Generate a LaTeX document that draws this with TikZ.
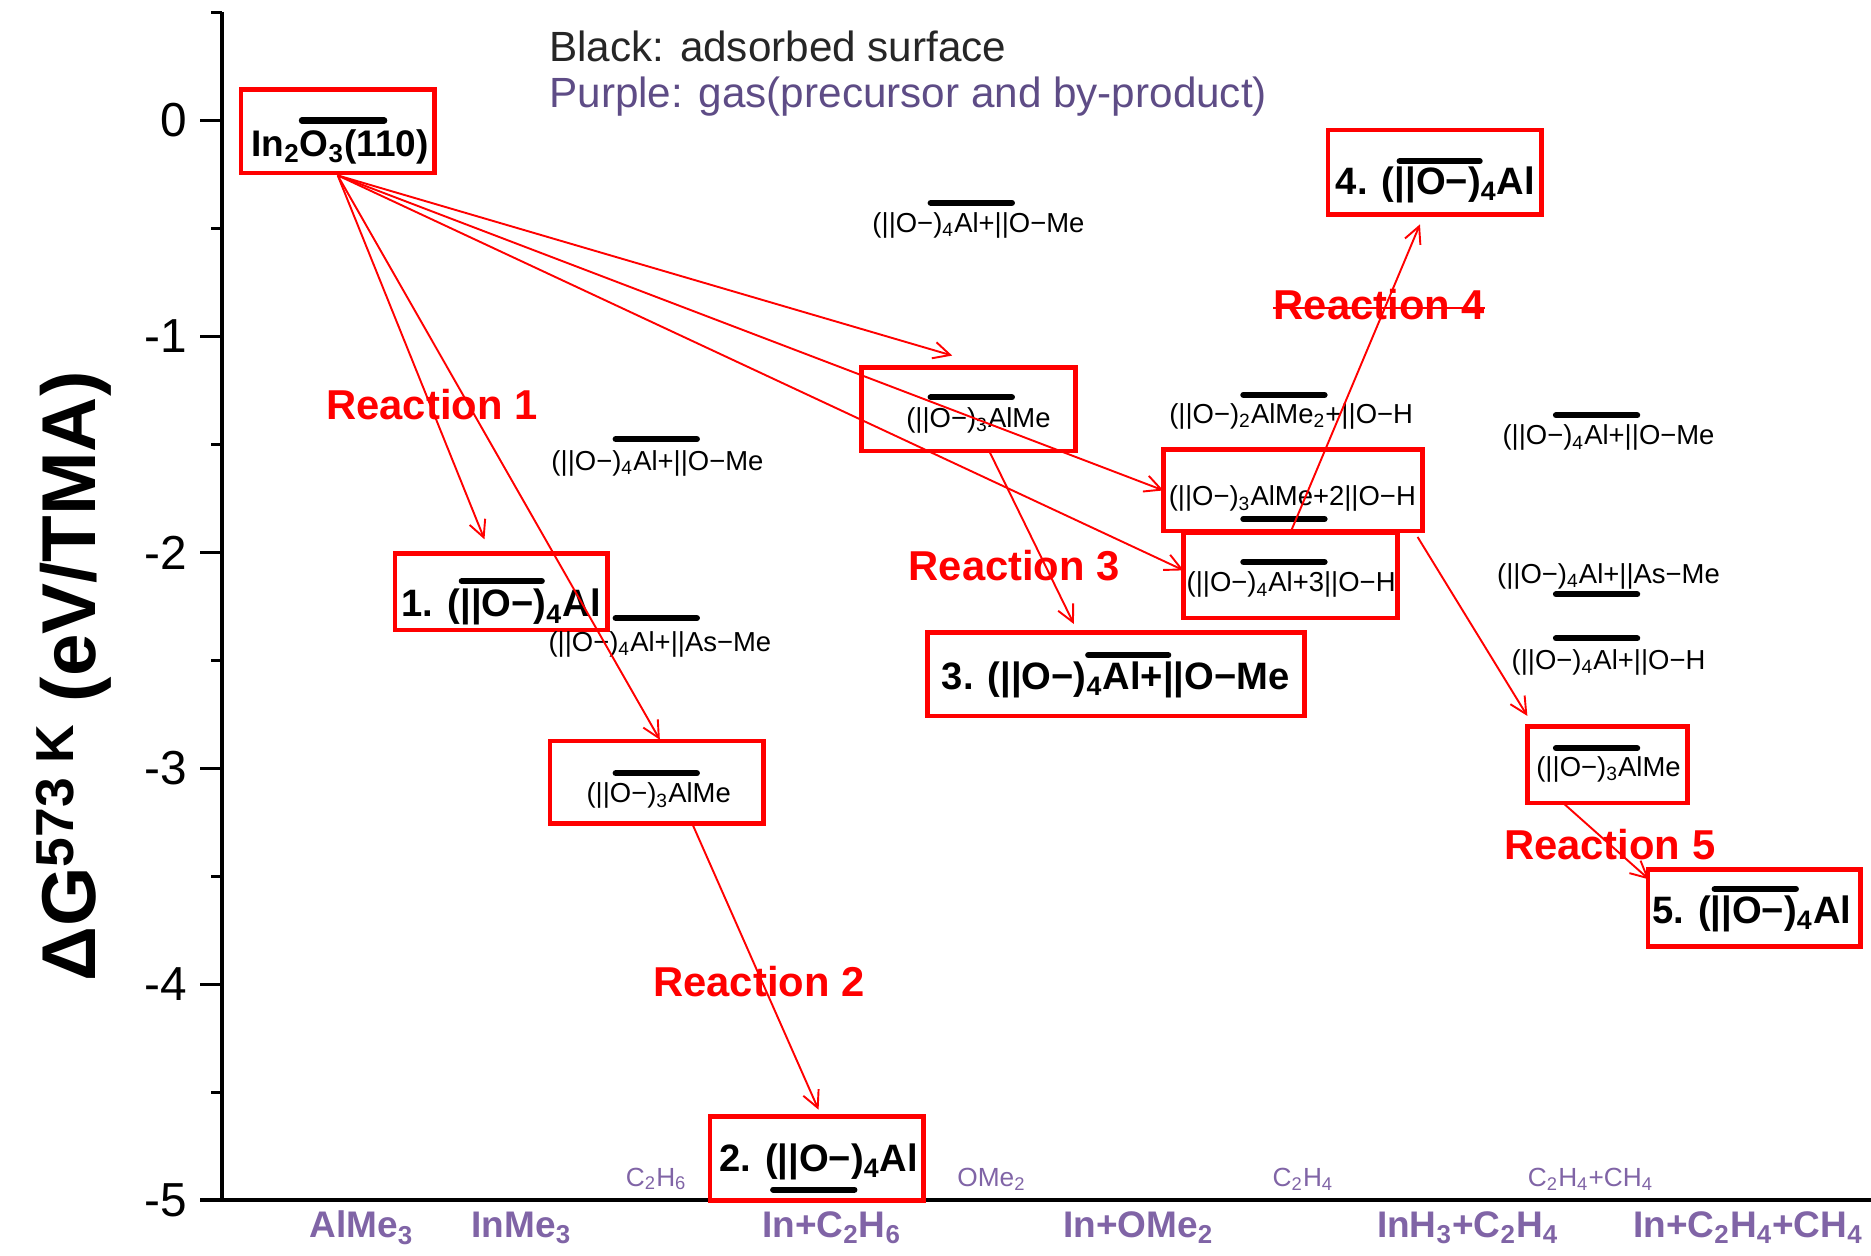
\documentclass[tikz,border=0pt]{standalone}
\usepackage{fontspec}
\setmainfont{Liberation Sans}
\usetikzlibrary{arrows.meta}
\definecolor{rred}{RGB}{255,0,0}
\definecolor{xpurple}{RGB}{128,100,166}
\definecolor{lpurple}{RGB}{94,76,134}
\definecolor{lblack}{RGB}{38,38,38}
\newcommand{\sbs}[1]{\textsubscript{#1}}
\newcommand{\grp}{(||O−)}
\begin{document}
\begin{tikzpicture}[x=0.5pt,y=-0.5pt,
  rbox/.style={draw=rred,line width=2pt,inner sep=0pt},
  lvl/.style={line width=2.6pt,line cap=round},
  sp/.style={inner sep=0pt,yshift=-1pt,font=\fontsize{11.5}{13}\selectfont},
  spb/.style={inner sep=0pt,yshift=-1pt,font=\bfseries\fontsize{16}{18}\selectfont},
  rxn/.style={inner sep=0pt,text=rred,font=\bfseries\fontsize{17.5}{20}\selectfont},
  arr/.style={draw=rred,line width=0.8pt,-{Straight Barb[length=7pt,width=7pt,line width=0.8pt]}},
  gas/.style={inner sep=0pt,text=xpurple,font=\fontsize{11}{13}\selectfont},
  xl/.style={inner sep=0pt,text=xpurple,font=\bfseries\fontsize{15.5}{18}\selectfont},
  tickl/.style={inner sep=0pt,anchor=east,font=\fontsize{20}{22}\selectfont},
  axis/.style={line width=1.6pt}
]
\useasboundingbox (0,0) rectangle (1568,1052);
% axes
\draw[axis] (186,10) -- (186,1006);
\draw[axis] (168,1006) -- (1568,1006);
\foreach \v/\lab in {0/0,-1/-1,-2/-2,-3/-3,-4/-4,-5/-5}{
  \draw[axis] (168,{101-181*\v}) -- (186,{101-181*\v});
  \node[tickl] (tk\lab) at (157,{101-181*\v}) {\lab};
}
\foreach \v in {0.5,-0.5,-1.5,-2.5,-3.5,-4.5}{
  \draw[axis] (177,{101-181*\v}) -- (186,{101-181*\v});
}
\node[inner sep=0pt,rotate=90,font=\bfseries\fontsize{32}{36}\selectfont] (ylab) at (62,567) {ΔG\textsuperscript{573 K} (eV/TMA)};
% legend
\node[inner sep=0pt,anchor=west,text=lblack,font=\fontsize{17.7}{20}\selectfont] (leg1) at (460,39) {Black: adsorbed surface};
\node[inner sep=0pt,anchor=west,text=lpurple,font=\fontsize{17.7}{20}\selectfont] (leg2) at (460,81) {Purple: gas(precursor and by-product)};
% boxes (sizes in pt = half of pixel units)
\node[rbox,minimum width=81pt,minimum height=35pt] (b0) at (283,110) {};
\node[rbox,minimum width=89.5pt,minimum height=35pt] (bA) at (811.5,343) {};
\node[rbox,minimum width=108.5pt,minimum height=34pt] (bB) at (1083.5,411) {};
\node[rbox,minimum width=89.5pt,minimum height=36pt] (bC) at (1081.5,482) {};
\node[rbox,minimum width=89.5pt,minimum height=35.5pt] (b4) at (1202.5,144.5) {};
\node[rbox,minimum width=67pt,minimum height=32pt] (bD) at (1347,641) {};
\node[rbox,minimum width=89pt,minimum height=32pt] (b5) at (1470,761) {};
\node[rbox,minimum width=89pt,minimum height=32pt] (b1) at (420,496) {};
\node[rbox,minimum width=89.5pt,minimum height=34.5pt] (bE) at (550.5,655.5) {};
\node[rbox,minimum width=158pt,minimum height=35pt] (b3) at (935,565) {};
\node[rbox,minimum width=89.5pt,minimum height=35pt] (b2) at (684.5,971) {};
% box labels
\node[inner sep=0pt,yshift=-1pt,font=\bfseries\fontsize{15.5}{18}\selectfont] (t0) at (285,121) {In\sbs{2}O\sbs{3}(110)};
\node[sp] (tA) at (820,350) {\grp\sbs{3}AlMe};
\node[sp] (tB) at (1083,416) {\grp\sbs{3}AlMe+2||O−H};
\node[sp] (tC) at (1082,488) {\grp\sbs{4}Al+3||O−H};
\node[spb] (t4) at (1203,153) {4. \grp\sbs{4}Al};
\node[sp] (tD) at (1348,643) {\grp\sbs{3}AlMe};
\node[spb] (t5) at (1468,764) {5. \grp\sbs{4}Al};
\node[spb] (t1) at (420,507) {1. \grp\sbs{4}Al};
\node[sp] (tE) at (552,665) {\grp\sbs{3}AlMe};
\node[spb] (t3) at (935,568) {3. \grp\sbs{4}Al+||O−Me};
\node[spb] (t2) at (686,972) {2. \grp\sbs{4}Al};
% free labels
\node[sp] (f1) at (820,187) {\grp\sbs{4}Al+||O−Me};
\node[sp] (f2) at (1082,347) {\grp\sbs{2}AlMe\sbs{2}+||O−H};
\node[sp] (f3) at (1348,365) {\grp\sbs{4}Al+||O−Me};
\node[sp] (f4) at (1348,481) {\grp\sbs{4}Al+||As−Me};
\node[sp] (f5) at (1348,553) {\grp\sbs{4}Al+||O−H};
\node[sp] (f6) at (551,386) {\grp\sbs{4}Al+||O−Me};
\node[sp] (f7) at (553,538) {\grp\sbs{4}Al+||As−Me};
% level bars
\foreach \y/\a/\b in {101/253/322, 170/780/848, 333/780/848, 331/1042/1110, 435/1042/1110,
  471/1042/1110, 135/1173/1240, 348/1304/1372, 498/1304/1372, 535/1304/1372, 627/1304/1372,
  745/1437/1505, 368/516/584, 487/387/454, 518/516/584, 648/516/584, 549/912/979, 997/648/716}{
  \draw[lvl] (\a,\y) -- (\b,\y);
}
% reaction labels
\node[rxn] (r1) at (362,339) {Reaction 1};
\node[rxn] (r2) at (636,823) {Reaction 2};
\node[rxn] (r3) at (850,474) {Reaction 3};
\node[rxn] (r4) at (1156,255) {Reaction 4};
\draw[rred,line width=1pt] (r4.west|-0,258) -- (r4.east|-0,258);
\node[rxn] (r5) at (1349,708) {Reaction 5};
% gas labels
\node[gas] (g1) at (550,988) {C\sbs{2}H\sbs{6}};
\node[gas] (g2) at (831,988) {OMe\sbs{2}};
\node[gas] (g3) at (1092,988) {C\sbs{2}H\sbs{4}};
\node[gas] (g4) at (1333,988) {C\sbs{2}H\sbs{4}+CH\sbs{4}};
% x labels
\node[xl] (x1) at (303,1029) {AlMe\sbs{3}};
\node[xl] (x2) at (437,1029) {InMe\sbs{3}};
\node[xl] (x3) at (697,1029) {In+C\sbs{2}H\sbs{6}};
\node[xl] (x4) at (954,1029) {In+OMe\sbs{2}};
\node[xl] (x5) at (1230,1029) {InH\sbs{3}+C\sbs{2}H\sbs{4}};
\node[xl] (x6) at (1465,1029) {In+C\sbs{2}H\sbs{4}+CH\sbs{4}};
% arrow ends
\coordinate (e1) at (406,452);
\coordinate (e2) at (553,620);
\coordinate (e3) at (798,298);
\coordinate (e4) at (975,411);
\coordinate (e5) at (992,478);
\coordinate (sA) at (829,378);
\coordinate (e6) at (900,523);
\coordinate (sE) at (580,690);
\coordinate (e7) at (686,930);
\coordinate (sB) at (1082,445);
\coordinate (e8) at (1190,188);
\coordinate (sB2) at (1188,450);
\coordinate (e9) at (1280,600);
\coordinate (sD) at (1310,673);
\coordinate (e10) at (1382,737);
% arrows
\draw[arr] (b0.south) -- (e1);
\draw[arr] (b0.south) -- (e2);
\draw[arr] (b0.south) -- (e3);
\draw[arr] (b0.south) -- (e4);
\draw[arr] (b0.south) -- (e5);
\draw[arr] (sA) -- (e6);
\draw[arr] (sE) -- (e7);
\draw[arr] (sB) -- (e8);
\draw[arr] (sB2) -- (e9);
\draw[arr] (sD) -- (e10);
\end{tikzpicture}
\end{document}
